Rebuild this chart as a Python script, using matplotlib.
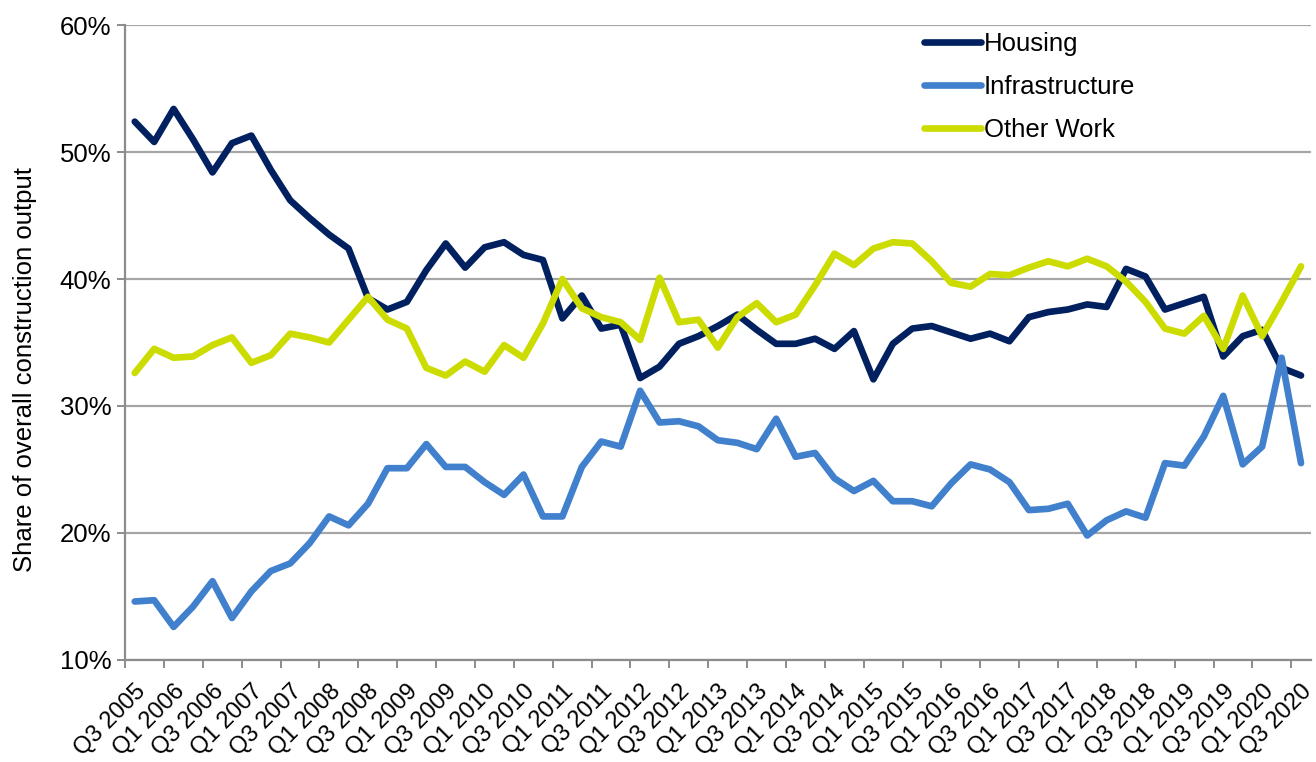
import matplotlib.pyplot as plt
import matplotlib.ticker as ticker
import numpy as np

# Data (share of overall construction output, %), quarterly Q3 2005 - Q3 2020
housing = [52.4, 50.8, 53.4, 51.0, 48.4, 50.7, 51.3, 48.6, 46.2, 44.8,
           43.5, 42.4, 38.5, 37.6, 38.2, 40.7, 42.8, 40.9, 42.5, 42.9,
           41.9, 41.5, 36.9, 38.7, 36.1, 36.4, 32.2, 33.1, 34.9, 35.5,
           36.3, 37.2, 36.0, 34.9, 34.9, 35.3, 34.5, 35.9, 32.1, 34.9,
           36.1, 36.3, 35.8, 35.3, 35.7, 35.1, 37.0, 37.4, 37.6, 38.0,
           37.8, 40.8, 40.2, 37.6, 38.1, 38.6, 33.9, 35.5, 36.0, 33.0,
           32.4]
infrastructure = [14.6, 14.7, 12.6, 14.2, 16.2, 13.3, 15.4, 17.0, 17.6, 19.2,
                  21.3, 20.6, 22.3, 25.1, 25.1, 27.0, 25.2, 25.2, 24.0, 23.0,
                  24.6, 21.3, 21.3, 25.2, 27.2, 26.8, 31.2, 28.7, 28.8, 28.4,
                  27.3, 27.1, 26.6, 29.0, 26.0, 26.3, 24.3, 23.3, 24.1, 22.5,
                  22.5, 22.1, 23.9, 25.4, 25.0, 24.0, 21.8, 21.9, 22.3, 19.8,
                  21.0, 21.7, 21.2, 25.5, 25.3, 27.6, 30.8, 25.4, 26.8, 33.8,
                  25.5]
other_work = [32.6, 34.5, 33.8, 33.9, 34.8, 35.4, 33.4, 34.0, 35.7, 35.4,
              35.0, 36.8, 38.6, 36.8, 36.1, 33.0, 32.4, 33.5, 32.7, 34.8,
              33.8, 36.5, 40.0, 37.7, 37.0, 36.6, 35.2, 40.1, 36.6, 36.8,
              34.6, 37.0, 38.1, 36.6, 37.2, 39.5, 42.0, 41.1, 42.4, 42.9,
              42.8, 41.4, 39.7, 39.4, 40.4, 40.3, 40.9, 41.4, 41.0, 41.6,
              41.0, 39.8, 38.2, 36.1, 35.7, 37.1, 34.5, 38.7, 35.5, 38.2,
              41.0]

quarters = []
for year in range(2005, 2021):
    for q in [1, 2, 3, 4]:
        if (year == 2005 and q < 3) or (year == 2020 and q > 3):
            continue
        quarters.append('Q%i %i' % (q, year))

plt.rcParams['font.family'] = ['Liberation Sans', 'DejaVu Sans']
fs = 18.5

fig, ax = plt.subplots(figsize=(13.16, 7.62), dpi=100)
fig.subplots_adjust(left=0.095, right=0.996, top=0.967, bottom=0.134)

x = np.arange(len(quarters))
ax.plot(x, np.array(housing) / 100, color='#002060', lw=4.8, label='Housing', solid_capstyle='round', zorder=3)
ax.plot(x, np.array(infrastructure) / 100, color='#4080CC', lw=4.8, label='Infrastructure', solid_capstyle='round', zorder=3)
ax.plot(x, np.array(other_work) / 100, color='#CCDC00', lw=4.8, label='Other Work', solid_capstyle='round', zorder=3)

# axes
ax.set_xlim(-0.5, len(quarters) - 0.5)
ax.set_ylim(0.1, 0.6)
ax.set_yticks(np.arange(0.1, 0.61, 0.1))
ax.yaxis.set_major_formatter(ticker.PercentFormatter(xmax=1, decimals=0))
ax.grid(axis='y', color='#A6A6A6', lw=1.6, zorder=0)

# tick marks between categories, labels on every 2nd category
ax.set_xticks(np.arange(-0.5, len(quarters), 2))
ax.set_xticklabels([])
ax.set_xticks(x[::2], minor=True)
ax.set_xticklabels(quarters[::2], minor=True, rotation=45, ha='right', va='top', rotation_mode='anchor')
ax.tick_params(axis='x', which='minor', length=0, pad=15, labelsize=17)
ax.tick_params(axis='x', which='major', length=6, width=1.4, color='#8C8C8C')
ax.tick_params(axis='y', length=6, width=1.4, color='#8C8C8C', labelsize=fs, pad=4)

for s in ['top', 'right']:
    ax.spines[s].set_visible(False)
for s in ['left', 'bottom']:
    ax.spines[s].set_color('#8C8C8C')
    ax.spines[s].set_linewidth(1.6)

ax.set_ylabel('Share of overall construction output', fontsize=fs)
ax.yaxis.set_label_coords(-0.074, 0.457)

ax.legend(loc='upper left', bbox_to_anchor=(0.692, 0.975), bbox_transform=fig.transFigure,
          frameon=False, fontsize=fs, handlelength=2.25, handletextpad=0.1,
          labelspacing=0.75, borderpad=0)

plt.savefig('out.png', dpi=100)
